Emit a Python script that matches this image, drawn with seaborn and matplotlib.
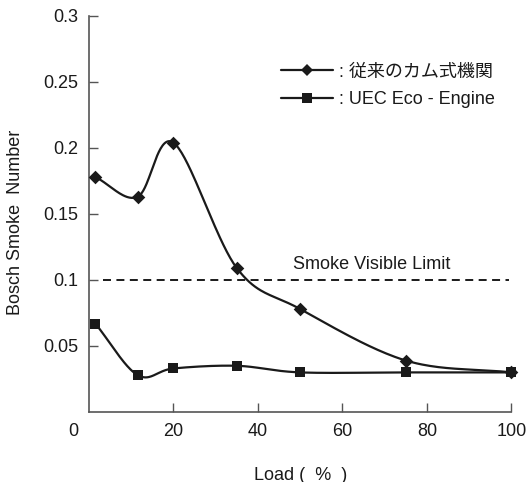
import numpy as np
import pandas as pd
import matplotlib
matplotlib.use("Agg")
import matplotlib.pyplot as plt
import seaborn as sns
from matplotlib.lines import Line2D
from matplotlib.transforms import ScaledTranslation

# ---- data ----
load_conv = [1.5, 11.5, 20, 35, 50, 75, 100]
bsn_conv = [0.178, 0.163, 0.204, 0.109, 0.078, 0.039, 0.030]
load_uec = [1.5, 11.5, 20, 35, 50, 75, 100]
bsn_uec = [0.067, 0.028, 0.033, 0.035, 0.030, 0.030, 0.030]
series_names = [": 従来のカム式機関", ": UEC Eco - Engine"]
limit_value = 0.1
limit_label = "Smoke Visible Limit"
x_ticks = [0, 20, 40, 60, 80, 100]
y_ticks = [0.05, 0.1, 0.15, 0.2, 0.25, 0.3]
y_tick_labels = ["0.05", "0.1", "0.15", "0.2", "0.25", "0.3"]
x_label = "Load (  %  )"
y_label = "Bosch Smoke  Number"

sns.set_theme(style="white")
plt.rcParams['font.family'] = ['Liberation Sans', 'Noto Sans CJK JP', 'DejaVu Sans']

INK = "#1a1a1a"
SPINE = "#555555"
FS = 13


def smooth(xs, ys, n=40):
    """Catmull-Rom rendering of a curve through the given points."""
    xs = np.asarray(xs, float)
    ys = np.asarray(ys, float)
    px = np.concatenate([[2 * xs[0] - xs[1]], xs, [2 * xs[-1] - xs[-2]]])
    py = np.concatenate([[2 * ys[0] - ys[1]], ys, [2 * ys[-1] - ys[-2]]])
    outx, outy = [], []
    t = np.linspace(0, 1, n)
    for i in range(1, len(px) - 2):
        for arr, out in ((px, outx), (py, outy)):
            p0, p1, p2, p3 = arr[i - 1], arr[i], arr[i + 1], arr[i + 2]
            out.extend(0.5 * ((2 * p1) + (-p0 + p2) * t
                              + (2 * p0 - 5 * p1 + 4 * p2 - p3) * t ** 2
                              + (-p0 + 3 * p1 - 3 * p2 + p3) * t ** 3))
    return np.array(outx), np.array(outy)


fig = plt.figure(figsize=(5.28, 4.82), dpi=100)
ax = fig.add_axes([89 / 528, 1 - 412 / 482, 422.4 / 528, 396 / 482])

# curves
cx, cy = smooth(load_conv, bsn_conv)
ux, uy = smooth(load_uec, bsn_uec)
sns.lineplot(x=cx, y=cy, ax=ax, color=INK, lw=1.6, sort=False, estimator=None)
sns.lineplot(x=ux, y=uy, ax=ax, color=INK, lw=1.6, sort=False, estimator=None)
sns.scatterplot(x=load_conv, y=bsn_conv, ax=ax, marker="D", s=48, color=INK,
                linewidth=0, zorder=5, clip_on=False)
sns.scatterplot(x=load_uec, y=bsn_uec, ax=ax, marker="s", s=52, color=INK,
                linewidth=0, zorder=5, clip_on=False)

# smoke visible limit
ax.plot([3.3, 99.5], [limit_value, limit_value], ls=(0, (4.1, 2.8)), color=INK, lw=1.4)
ax.text(67, limit_value + 0.0115, limit_label, ha="center", va="center",
        fontsize=FS, color=INK)

ax.set_xlim(0, 100)
ax.set_ylim(0, 0.3)
ax.set_xticks(x_ticks)
ax.set_xticklabels([str(v) for v in x_ticks])
ax.set_yticks(y_ticks)
ax.set_yticklabels(y_tick_labels)
ax.tick_params(axis="both", direction="in", length=6.5, width=1, color=SPINE,
               labelsize=FS, labelcolor=INK, bottom=True, left=True)
ax.tick_params(axis="x", pad=8)
ax.tick_params(axis="y", pad=8)
ax.xaxis.get_major_ticks()[0].tick1line.set_visible(False)
lbl0 = ax.get_xticklabels()[0]
lbl0.set_transform(lbl0.get_transform() + ScaledTranslation(-16 / 100, 0, fig.dpi_scale_trans))

for side in ["top", "right"]:
    ax.spines[side].set_visible(False)
for side in ["left", "bottom"]:
    ax.spines[side].set_color(SPINE)
    ax.spines[side].set_linewidth(1.2)

ax.set_xlabel(x_label, fontsize=FS, color=INK, labelpad=19)
ax.set_ylabel(y_label, fontsize=FS, color=INK)
ax.yaxis.set_label_coords(-0.155, 0.48)

handles = [
    Line2D([], [], color=INK, lw=1.6, marker="D", markersize=6.5, markeredgewidth=0),
    Line2D([], [], color=INK, lw=1.6, marker="s", markersize=7, markeredgewidth=0),
]
ax.legend(handles, series_names, loc="upper left", bbox_to_anchor=(0.4545, 0.88),
          frameon=False, fontsize=FS, handlelength=2.9, handletextpad=0.3,
          borderpad=0, borderaxespad=0, labelspacing=0.6, labelcolor=INK)

fig.savefig("out.png", dpi=100)
